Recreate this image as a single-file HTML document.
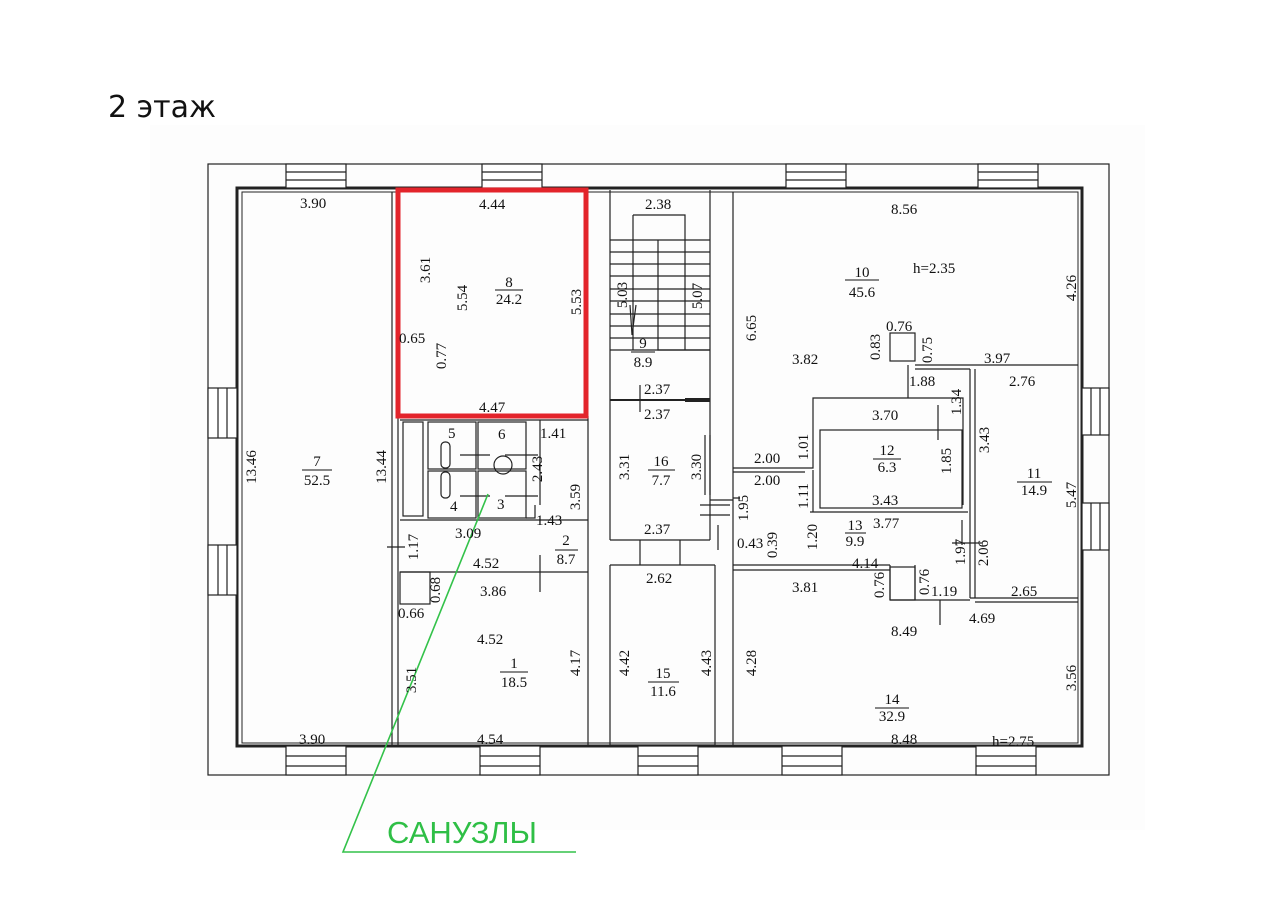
<!DOCTYPE html>
<html><head><meta charset="utf-8"><style>
html,body{margin:0;padding:0;background:#fff;width:1280px;height:905px;overflow:hidden}
svg text{font-family:"Liberation Serif",serif;font-size:15px;fill:#111}
</style></head><body>
<svg width="1280" height="905" viewBox="0 0 1280 905" xmlns="http://www.w3.org/2000/svg">
<rect x="150" y="125" width="995" height="705" fill="#fdfdfd"/>
<text x="108" y="117" style="font-family:'DejaVu Sans',sans-serif;font-size:30px;fill:#111">2 этаж</text>
<g stroke="#222" fill="none" stroke-width="1.2">
<rect x="208" y="164" width="901" height="611"/>
<rect x="237" y="188" width="845" height="558" stroke-width="3"/>
<rect x="242" y="192" width="836" height="551" stroke-width="1"/>
<g fill="#fff">
<rect x="286" y="164" width="60" height="24"/><rect x="482" y="164" width="60" height="24"/><rect x="786" y="164" width="60" height="24"/><rect x="978" y="164" width="60" height="24"/>
<rect x="480" y="746" width="60" height="29"/><rect x="638" y="746" width="60" height="29"/><rect x="782" y="746" width="60" height="29"/><rect x="286" y="746" width="60" height="29"/><rect x="976" y="746" width="60" height="29"/>
<rect x="208" y="388" width="29" height="50"/><rect x="208" y="545" width="29" height="50"/>
<rect x="1082" y="388" width="27" height="47"/><rect x="1082" y="503" width="27" height="47"/>
</g>
<path d="M286 172H346M286 180H346M482 172H542M482 180H542M786 172H846M786 180H846M978 172H1038M978 180H1038"/>
<path d="M480 756H540M480 766H540M638 756H698M638 766H698M782 756H842M782 766H842M286 756H346M286 766H346M976 756H1036M976 766H1036"/>
<path d="M218 388V438M227 388V438M218 545V595M227 545V595M1091 388V435M1100 388V435M1091 503V550M1100 503V550"/>
<path d="M392 192V745M398 192V745"/>
<path d="M588 416V745M400 420H588M400 572H588M400 520H588"/>
<rect x="403" y="422" width="20" height="94"/>
<rect x="428" y="422" width="48" height="47"/><rect x="478" y="422" width="48" height="47"/>
<rect x="428" y="471" width="48" height="47"/><rect x="478" y="471" width="48" height="47"/>
<path d="M526 518H535V505M540 505V420"/>
<rect x="400" y="572" width="30" height="32"/>
<path d="M387 547H405M540 555V592M460 455H490M505 455H538M460 496H490M505 496H538"/>
<circle cx="503" cy="465" r="9"/>
<rect x="441" y="442" width="9" height="26" rx="4"/><rect x="441" y="472" width="9" height="26" rx="4"/>
<path d="M610 190V540M610 565V745M710 190V540M715 565V745M610 540H710M610 565H715M610 745H715"/>
<path d="M633 215H685V350M633 215V350"/>
<path d="M610 240H710M610 252H710M610 264H710M610 276H710M610 289H710M610 301H710M610 314H710M610 326H710M610 338H710M610 350H710"/>
<path d="M658 240V350H710"/>
<path d="M630 305L632 335L636 305"/>
<path d="M610 400H710" stroke-width="2"/><path d="M685 400H710" stroke-width="4"/>
<path d="M640 385V412M710 435V495M705 435V495M640 540V565M680 540V565M700 515H730M700 505H730M710 500H733M718 525V550"/>
<path d="M733 192V745"/>
<rect x="890" y="333" width="25" height="28"/>
<path d="M915 365H1078M915 369H970M970 369V598M975 369V598M970 598H1078M975 602H1078"/>
<path d="M908 365V398H813V468H733M908 398H963V420M963 420V505M813 470V512M810 512H968M813 512H965"/>
<rect x="820" y="430" width="142" height="78"/>
<path d="M733 472H805M733 498H740M733 565H890M733 570H890M890 565V600M915 565V600H970M890 600H970"/>
<rect x="890" y="567" width="25" height="33"/>
<path d="M938 405V440M940 600V625M952 543H982M962 520V545"/>
</g>
<rect x="398" y="190" width="188" height="226" fill="none" stroke="#e3242b" stroke-width="5"/>
<path d="M488 494L343 852H576" stroke="#33c24a" stroke-width="1.6" fill="none"/>
<text x="387" y="843" style="font-family:'Liberation Sans',sans-serif;font-size:31px;fill:#2fbf46">САНУЗЛЫ</text>
<g>
<text x="300" y="208">3.90</text><text x="479" y="209">4.44</text><text x="645" y="209">2.38</text><text x="891" y="214">8.56</text>
<text x="913" y="273">h=2.35</text>
<text x="399" y="343">0.65</text><text x="479" y="412">4.47</text><text x="540" y="438">1.41</text>
<text x="448" y="438">5</text><text x="498" y="439">6</text><text x="450" y="511">4</text><text x="497" y="509">3</text>
<text x="536" y="525">1.43</text><text x="455" y="538">3.09</text><text x="473" y="568">4.52</text>
<text x="480" y="596">3.86</text><text x="398" y="618">0.66</text><text x="477" y="644">4.52</text>
<text x="299" y="744">3.90</text><text x="477" y="744">4.54</text><text x="891" y="744">8.48</text><text x="992" y="746">h=2.75</text>
<text x="644" y="394">2.37</text><text x="644" y="419">2.37</text><text x="644" y="534">2.37</text><text x="646" y="583">2.62</text>
<text x="792" y="364">3.82</text><text x="886" y="331">0.76</text><text x="984" y="363">3.97</text><text x="909" y="386">1.88</text>
<text x="1009" y="386">2.76</text><text x="872" y="420">3.70</text><text x="754" y="463">2.00</text><text x="754" y="485">2.00</text>
<text x="872" y="505">3.43</text><text x="873" y="528">3.77</text><text x="737" y="548">0.43</text><text x="852" y="568">4.14</text>
<text x="792" y="592">3.81</text><text x="931" y="596">1.19</text><text x="1011" y="596">2.65</text><text x="969" y="623">4.69</text>
<text x="891" y="636">8.49</text>
</g>
<g text-anchor="middle">
<text x="317" y="466">7</text><text x="317" y="485">52.5</text>
<text x="509" y="287">8</text><text x="509" y="304">24.2</text>
<text x="643" y="348">9</text><text x="643" y="367">8.9</text>
<text x="661" y="466">16</text><text x="661" y="485">7.7</text>
<text x="862" y="277">10</text><text x="862" y="297">45.6</text>
<text x="887" y="455">12</text><text x="887" y="472">6.3</text>
<text x="1034" y="478">11</text><text x="1034" y="495">14.9</text>
<text x="855" y="530">13</text><text x="855" y="546">9.9</text>
<text x="566" y="545">2</text><text x="566" y="564">8.7</text>
<text x="514" y="668">1</text><text x="514" y="687">18.5</text>
<text x="663" y="678">15</text><text x="663" y="696">11.6</text>
<text x="892" y="704">14</text><text x="892" y="721">32.9</text>
</g>
<g stroke="#111" stroke-width="1">
<path d="M302 470H332M495 290H523M631 352H655M648 470H675M845 280H879M873 459H901M1017 482H1052M845 533H866M555 550H578M500 672H528M648 682H679M875 708H909"/>
</g>
<g text-anchor="middle">
<text transform="translate(256,467) rotate(-90)">13.46</text>
<text transform="translate(386,467) rotate(-90)">13.44</text>
<text transform="translate(430,270) rotate(-90)">3.61</text>
<text transform="translate(467,298) rotate(-90)">5.54</text>
<text transform="translate(581,302) rotate(-90)">5.53</text>
<text transform="translate(446,356) rotate(-90)">0.77</text>
<text transform="translate(627,295) rotate(-90)">5.03</text>
<text transform="translate(702,296) rotate(-90)">5.07</text>
<text transform="translate(542,469) rotate(-90)">2.43</text>
<text transform="translate(580,497) rotate(-90)">3.59</text>
<text transform="translate(418,547) rotate(-90)">1.17</text>
<text transform="translate(440,590) rotate(-90)">0.68</text>
<text transform="translate(416,680) rotate(-90)">3.51</text>
<text transform="translate(580,663) rotate(-90)">4.17</text>
<text transform="translate(629,467) rotate(-90)">3.31</text>
<text transform="translate(701,467) rotate(-90)">3.30</text>
<text transform="translate(629,663) rotate(-90)">4.42</text>
<text transform="translate(711,663) rotate(-90)">4.43</text>
<text transform="translate(756,328) rotate(-90)">6.65</text>
<text transform="translate(756,663) rotate(-90)">4.28</text>
<text transform="translate(880,347) rotate(-90)">0.83</text>
<text transform="translate(932,350) rotate(-90)">0.75</text>
<text transform="translate(961,402) rotate(-90)">1.34</text>
<text transform="translate(808,447) rotate(-90)">1.01</text>
<text transform="translate(808,496) rotate(-90)">1.11</text>
<text transform="translate(951,461) rotate(-90)">1.85</text>
<text transform="translate(989,440) rotate(-90)">3.43</text>
<text transform="translate(748,508) rotate(-90)">1.95</text>
<text transform="translate(777,545) rotate(-90)">0.39</text>
<text transform="translate(817,537) rotate(-90)">1.20</text>
<text transform="translate(965,552) rotate(-90)">1.97</text>
<text transform="translate(988,553) rotate(-90)">2.06</text>
<text transform="translate(884,585) rotate(-90)">0.76</text>
<text transform="translate(929,582) rotate(-90)">0.76</text>
<text transform="translate(1076,288) rotate(-90)">4.26</text>
<text transform="translate(1076,495) rotate(-90)">5.47</text>
<text transform="translate(1076,678) rotate(-90)">3.56</text>
</g>
</svg>
</body></html>
